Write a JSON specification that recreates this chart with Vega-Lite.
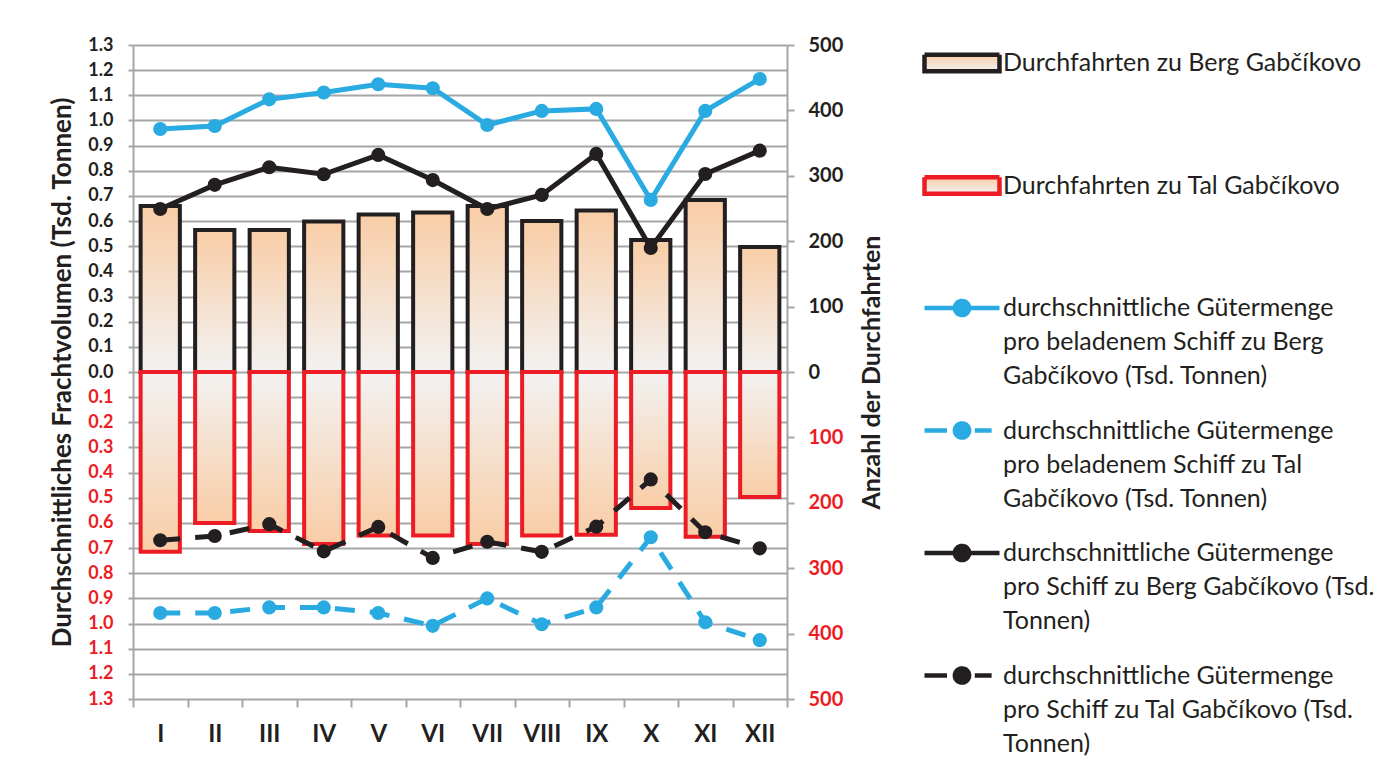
{
  "$schema": "https://vega.github.io/schema/vega-lite/v6.json",
  "width": 654,
  "height": 654,
  "autosize": {"type": "none"},
  "padding": {"left": 133, "top": 45, "right": 607, "bottom": 62},
  "background": "white",
  "config": {"font": "Lato", "view": {"stroke": null}},
  "datasets": {
    "monate": [
      {"monat": "I", "berg": 254, "tal": 275, "beladen_berg": 0.966, "beladen_tal": 0.958, "schiff_berg": 0.648, "schiff_tal": 0.669},
      {"monat": "II", "berg": 217, "tal": 231, "beladen_berg": 0.978, "beladen_tal": 0.958, "schiff_berg": 0.744, "schiff_tal": 0.652},
      {"monat": "III", "berg": 217, "tal": 243, "beladen_berg": 1.084, "beladen_tal": 0.936, "schiff_berg": 0.814, "schiff_tal": 0.605},
      {"monat": "IV", "berg": 230, "tal": 263, "beladen_berg": 1.111, "beladen_tal": 0.936, "schiff_berg": 0.786, "schiff_tal": 0.713},
      {"monat": "V", "berg": 241, "tal": 250, "beladen_berg": 1.144, "beladen_tal": 0.958, "schiff_berg": 0.863, "schiff_tal": 0.616},
      {"monat": "VI", "berg": 244, "tal": 250, "beladen_berg": 1.128, "beladen_tal": 1.009, "schiff_berg": 0.763, "schiff_tal": 0.739},
      {"monat": "VII", "berg": 254, "tal": 263, "beladen_berg": 0.982, "beladen_tal": 0.9, "schiff_berg": 0.648, "schiff_tal": 0.675},
      {"monat": "VIII", "berg": 231, "tal": 250, "beladen_berg": 1.038, "beladen_tal": 1.003, "schiff_berg": 0.704, "schiff_tal": 0.715},
      {"monat": "IX", "berg": 247, "tal": 249, "beladen_berg": 1.046, "beladen_tal": 0.936, "schiff_berg": 0.867, "schiff_tal": 0.615},
      {"monat": "X", "berg": 202, "tal": 208, "beladen_berg": 0.684, "beladen_tal": 0.657, "schiff_berg": 0.493, "schiff_tal": 0.427},
      {"monat": "XI", "berg": 263, "tal": 252, "beladen_berg": 1.038, "beladen_tal": 0.995, "schiff_berg": 0.787, "schiff_tal": 0.637},
      {"monat": "XII", "berg": 191, "tal": 191, "beladen_berg": 1.165, "beladen_tal": 1.066, "schiff_berg": 0.88, "schiff_tal": 0.701}
    ]
  },
  "data": {"name": "monate"},
  "layer": [
    {
      "mark": {
        "type": "bar",
        "width": {"band": 0.72},
        "stroke": "#231f20",
        "strokeWidth": 4,
        "fill": {"gradient": "linear", "x1": 0, "y1": 0, "x2": 0, "y2": 1,
          "stops": [{"offset": 0, "color": "#f9cda6"}, {"offset": 1, "color": "#f2f2f2"}]}
      },
      "encoding": {
        "x": {
          "field": "monat", "type": "nominal",
          "sort": ["I","II","III","IV","V","VI","VII","VIII","IX","X","XI","XII"],
          "scale": {"paddingInner": 0, "paddingOuter": 0},
          "axis": {
            "title": null, "labelAngle": 0, "labelFont": "Lato", "labelFontSize": 24, "labelFontWeight": "bold",
            "labelColor": "#231f20", "labelPadding": 15, "tickBand": "extent", "tickSize": 8,
            "tickColor": "#a6a6a6", "tickWidth": 2, "domain": false
          }
        },
        "y": {
          "field": "berg", "type": "quantitative", "stack": null,
          "scale": {"domain": [-500, 500], "nice": false},
          "axis": {
            "orient": "right", "grid": false,
            "values": [-500, -400, -300, -200, -100, 0, 100, 200, 300, 400, 500],
            "labelExpr": "format(abs(datum.value), 'd')",
            "labelColor": {"condition": {"test": "datum.value < 0", "value": "#ed1c24"}, "value": "#231f20"},
            "labelFont": "Lato", "labelFontSize": 20, "labelFontWeight": "bold", "labelPadding": 14,
            "labelOverlap": false,
            "tickSize": 7, "tickColor": "#a6a6a6", "tickWidth": 2,
            "domainColor": "#a6a6a6", "domainWidth": 2,
            "title": "Anzahl der Durchfahrten", "titleFont": "Lato", "titleFontSize": 25, "titleFontWeight": "bold",
            "titleColor": "#231f20", "titleAngle": 270, "titleX": 84, "titleY": 327,
            "titleAlign": "center", "titleBaseline": "middle"
          }
        }
      }
    },
    {
      "mark": {
        "type": "bar",
        "width": {"band": 0.72},
        "stroke": "#ed1c24",
        "strokeWidth": 4,
        "fill": {"gradient": "linear", "x1": 0, "y1": 0, "x2": 0, "y2": 1,
          "stops": [{"offset": 0, "color": "#f2f2f2"}, {"offset": 1, "color": "#f9cda6"}]}
      },
      "encoding": {
        "x": {"field": "monat", "type": "nominal", "sort": ["I","II","III","IV","V","VI","VII","VIII","IX","X","XI","XII"]},
        "y": {
          "field": "tal", "type": "quantitative", "stack": null,
          "scale": {"domain": [-500, 500], "nice": false, "reverse": true},
          "axis": null
        }
      }
    },
    {
      "transform": [{"fold": ["beladen_berg", "schiff_berg"], "as": ["serie", "wert"]}],
      "mark": {"type": "line", "strokeWidth": 5},
      "encoding": {
        "x": {"field": "monat", "type": "nominal", "sort": ["I","II","III","IV","V","VI","VII","VIII","IX","X","XI","XII"]},
        "y": {
          "field": "wert", "type": "quantitative",
          "scale": {"domain": [-1.3, 1.3], "nice": false},
          "axis": {
            "orient": "left", "grid": true, "gridColor": "#a6a6a6", "gridWidth": 2,
            "values": [-1.3, -1.2, -1.1, -1.0, -0.9, -0.8, -0.7, -0.6, -0.5, -0.4, -0.3, -0.2, -0.1, 0, 0.1, 0.2, 0.3, 0.4, 0.5, 0.6, 0.7, 0.8, 0.9, 1.0, 1.1, 1.2, 1.3],
            "labelExpr": "format(abs(datum.value), '.1f')",
            "labelColor": {"condition": {"test": "datum.value < -0.001", "value": "#ed1c24"}, "value": "#231f20"},
            "labelFont": "Lato", "labelFontSize": 18, "labelFontWeight": "bold", "labelPadding": 15,
            "labelOverlap": false,
            "tickSize": 5, "tickColor": "#a6a6a6", "tickWidth": 2,
            "domainColor": "#a6a6a6", "domainWidth": 2,
            "title": "Durchschnittliches Frachtvolumen (Tsd. Tonnen)", "titleFont": "Lato", "titleFontSize": 26,
            "titleFontWeight": "bold", "titleColor": "#231f20", "titleAngle": 270, "titleX": -71, "titleY": 327,
            "titleAlign": "center", "titleBaseline": "middle"
          }
        },
        "color": {
          "field": "serie", "type": "nominal",
          "scale": {
            "domain": ["berg", "tal", "beladen_berg", "beladen_tal", "schiff_berg", "schiff_tal"],
            "range": ["#231f20", "#ed1c24", "#29abe2", "#29abe2", "#231f20", "#231f20"]
          },
          "legend": {
            "orient": "none", "legendX": 789, "legendY": -22, "padding": 0, "title": null,
            "symbolSize": 5625, "symbolStrokeWidth": 4.5, "symbolOffset": 0,
            "labelFont": "Lato", "labelFontSize": 25, "labelColor": "#231f20", "labelLimit": 600,
            "labelOffset": 1, "rowPadding": 1.5,
            "labelExpr": "datum.value === 'berg' ? ['Durchfahrten zu Berg Gabčíkovo', '', ''] : datum.value === 'tal' ? ['Durchfahrten zu Tal Gabčíkovo', '', ''] : datum.value === 'beladen_berg' ? ['durchschnittliche Gütermenge', 'pro beladenem Schiff zu Berg', 'Gabčíkovo (Tsd. Tonnen)'] : datum.value === 'beladen_tal' ? ['durchschnittliche Gütermenge', 'pro beladenem Schiff zu Tal', 'Gabčíkovo (Tsd. Tonnen)'] : datum.value === 'schiff_berg' ? ['durchschnittliche Gütermenge', 'pro Schiff zu Berg Gabčíkovo (Tsd.', 'Tonnen)'] : ['durchschnittliche Gütermenge', 'pro Schiff zu Tal Gabčíkovo (Tsd.', 'Tonnen)']",
            "encode": {
              "labels": {"update": {"lineHeight": {"value": 34}}},
              "symbols": {
                "update": {
                  "shape": {"signal": "(datum.value === 'berg' || datum.value === 'tal') ? 'M-1,-0.22H1V0.22H-1Z' : (datum.value === 'beladen_tal' || datum.value === 'schiff_tal') ? 'M-1,0H-0.4M0.34,0H0.79M0.19,0A0.19,0.19,0,1,1,-0.19,0A0.19,0.19,0,1,1,0.19,0' : 'M-1,0H1M0.19,0A0.19,0.19,0,1,1,-0.19,0A0.19,0.19,0,1,1,0.19,0'"},
                  "fill": {"signal": "(datum.value === 'berg' || datum.value === 'tal') ? {gradient: 'linear', x1: 0, y1: 0, x2: 0, y2: 1, stops: [{offset: 0, color: '#f9cda6'}, {offset: 1, color: '#f2f2f2'}]} : (datum.value === 'beladen_berg' || datum.value === 'beladen_tal') ? '#29abe2' : '#231f20'"},
                  "strokeDash": {"value": [1, 0]},
                  "opacity": {"value": 1}
                }
              }
            }
          }
        }
      }
    },
    {
      "transform": [{"fold": ["beladen_tal", "schiff_tal"], "as": ["serie", "wert"]}],
      "mark": {"type": "line", "strokeWidth": 5, "strokeDash": [20, 15]},
      "encoding": {
        "x": {"field": "monat", "type": "nominal", "sort": ["I","II","III","IV","V","VI","VII","VIII","IX","X","XI","XII"]},
        "y": {
          "field": "wert", "type": "quantitative",
          "scale": {"domain": [-1.3, 1.3], "nice": false, "reverse": true},
          "axis": null
        },
        "color": {"field": "serie", "type": "nominal"}
      }
    },
    {
      "transform": [{"fold": ["beladen_berg", "schiff_berg"], "as": ["serie", "wert"]}],
      "mark": {"type": "point", "filled": true, "size": 200, "opacity": 1},
      "encoding": {
        "x": {"field": "monat", "type": "nominal", "sort": ["I","II","III","IV","V","VI","VII","VIII","IX","X","XI","XII"]},
        "y": {
          "field": "wert", "type": "quantitative",
          "scale": {"domain": [-1.3, 1.3], "nice": false},
          "axis": null
        },
        "fill": {
          "field": "serie", "type": "nominal",
          "scale": {
            "domain": ["beladen_berg", "beladen_tal", "schiff_berg", "schiff_tal"],
            "range": ["#29abe2", "#29abe2", "#231f20", "#231f20"]
          },
          "legend": null
        }
      }
    },
    {
      "transform": [{"fold": ["beladen_tal", "schiff_tal"], "as": ["serie", "wert"]}],
      "mark": {"type": "point", "filled": true, "size": 200, "opacity": 1},
      "encoding": {
        "x": {"field": "monat", "type": "nominal", "sort": ["I","II","III","IV","V","VI","VII","VIII","IX","X","XI","XII"]},
        "y": {
          "field": "wert", "type": "quantitative",
          "scale": {"domain": [-1.3, 1.3], "nice": false, "reverse": true},
          "axis": null
        },
        "fill": {"field": "serie", "type": "nominal", "legend": null}
      }
    }
  ],
  "resolve": {"scale": {"y": "independent"}}
}
